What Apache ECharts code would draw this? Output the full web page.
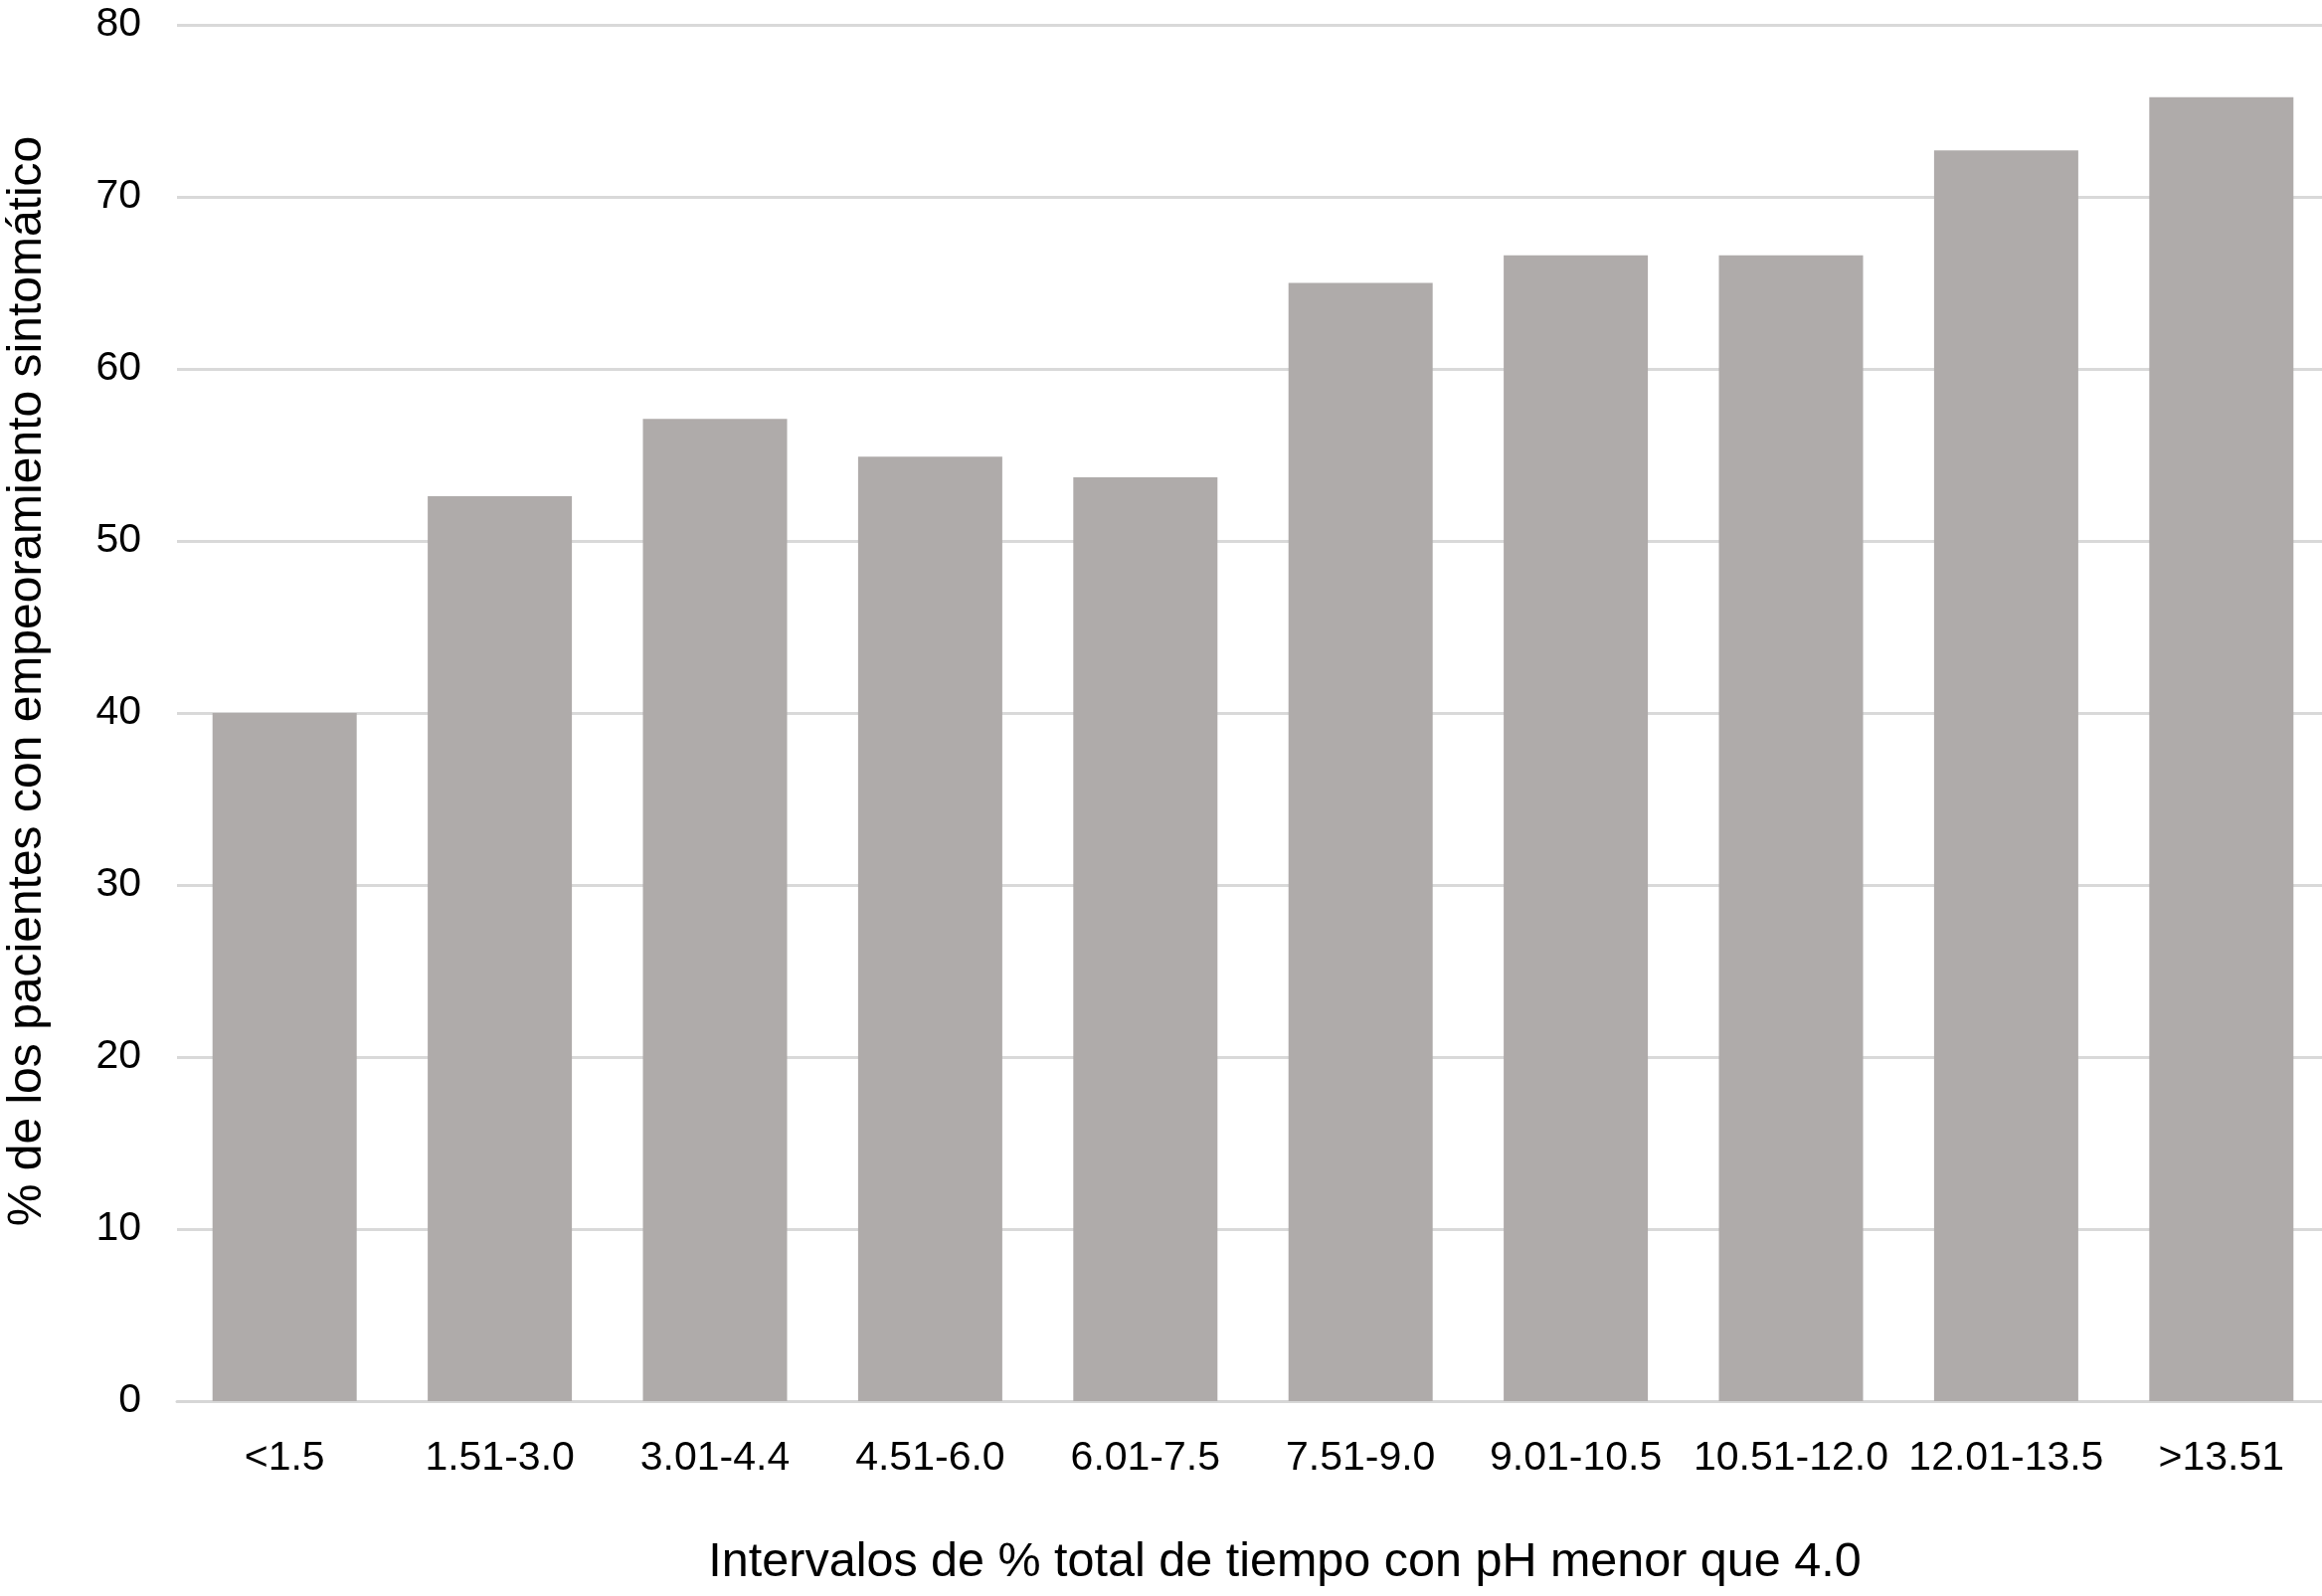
<!DOCTYPE html>
<html>
<head>
<meta charset="utf-8">
<title>Empeoramiento sintomático por intervalos de pH</title>
<script src="https://cdn.jsdelivr.net/npm/echarts@6/dist/echarts.min.js"></script>
<style>
  html, body { margin: 0; padding: 0; background: #fff; }
  #main { width: 2335px; height: 1605px; }
</style>
</head>
<body>
<div id="main"></div>
<script>
// intervalos de % total de tiempo con pH < 4.0
const categories = ['<1.5', '1.51-3.0', '3.01-4.4', '4.51-6.0', '6.01-7.5',
  '7.51-9.0', '9.01-10.5', '10.51-12.0', '12.01-13.5', '>13.51'];

// % de pacientes con empeoramiento sintomático
const values = [40.0, 52.6, 57.1, 54.9, 53.7, 65.0, 66.6, 66.6, 72.7, 75.8];

const xAxisName = 'Intervalos de % total de tiempo con pH menor que 4.0';
const yAxisName = '% de los pacientes con empeoramiento sintomático';

const fontFamily = '"Liberation Sans", Arial, Helvetica, sans-serif';

var chart = null;
function initChart(dom) {
  chart = echarts.init(dom, null, { renderer: 'canvas' });

  var option = {
    animation: false,
    backgroundColor: '#ffffff',
    textStyle: { fontFamily: fontFamily },
    // the plot runs a little past the right edge of the picture,
    // so don't let v6 squeeze the grid back inside
    grid: {
      left: 178,
      width: 2164,
      top: 25,
      bottom: 196,
      containLabel: false,
      outerBoundsMode: 'none'
    },
    xAxis: {
      type: 'category',
      data: categories,
      name: xAxisName,
      nameLocation: 'middle',
      nameGap: 138,
      nameTextStyle: {
        fontSize: 48.5,
        color: '#000',
        fontFamily: fontFamily,
        padding: [0, 0, 0, 64]
      },
      axisLine: { show: true, lineStyle: { color: '#d6d6d6', width: 3 } },
      axisTick: { show: false },
      axisLabel: {
        color: '#000',
        fontSize: 41,
        margin: 37,
        interval: 0,
        fontFamily: fontFamily
      }
    },
    yAxis: {
      type: 'value',
      min: 0,
      max: 80,
      interval: 10,
      name: yAxisName,
      nameLocation: 'middle',
      nameGap: 126,
      nameTextStyle: {
        fontSize: 48,
        color: '#000',
        fontFamily: fontFamily,
        padding: [0, 0, 0, 64]
      },
      axisLine: { show: false },
      axisTick: { show: false },
      axisLabel: {
        color: '#000',
        fontSize: 41,
        margin: 36,
        fontFamily: fontFamily
      },
      splitLine: { lineStyle: { color: '#d9d9d9', width: 3 } }
    },
    series: [{
      type: 'bar',
      data: values,
      barCategoryGap: '33%',
      itemStyle: { color: '#afabaa' }
    }]
  };

  chart.setOption(option);
  return chart;
}

initChart(document.getElementById('main'));
</script>
</body>
</html>
